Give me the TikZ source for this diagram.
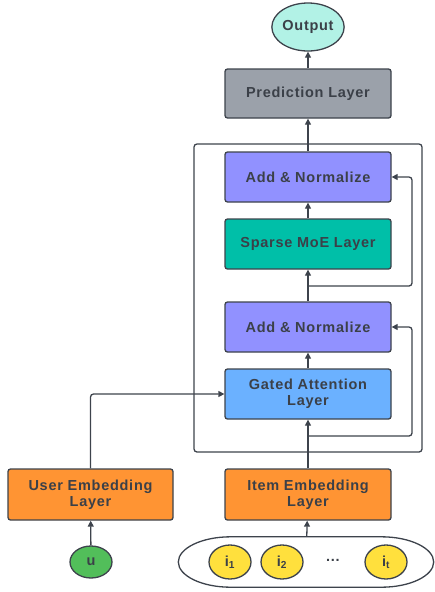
\documentclass[tikz,border=0pt]{standalone}
\usepackage{fontspec}
\usetikzlibrary{arrows.meta,shapes.geometric}
\newfontfamily\lblfamily[LetterSpace=5]{Liberation Sans}
\newcommand{\lbl}{\lblfamily\bfseries\fontsize{14.5}{16}\selectfont}
\definecolor{ink}{HTML}{3B4048}
\definecolor{edge}{HTML}{3D434C}
\definecolor{outfill}{HTML}{B2F2E6}
\definecolor{predfill}{HTML}{9BA1AA}
\definecolor{normfill}{HTML}{9191FF}
\definecolor{moefill}{HTML}{00BFA8}
\definecolor{attfill}{HTML}{6BB1FF}
\definecolor{embfill}{HTML}{FF9433}
\definecolor{userfill}{HTML}{52BE5A}
\definecolor{itemfill}{HTML}{FFE03D}
\begin{document}
\begin{tikzpicture}[x=1pt,y=-1pt,
  layer/.style={draw=edge, line width=1.3pt, rounded corners=2.5pt,
    minimum width=166pt, minimum height=50pt, inner sep=0pt,
    font=\lbl, text=ink, align=center},
  token/.style={ellipse, draw=edge, line width=1.3pt, inner sep=0pt,
    font=\lbl, text=ink},
  conn/.style={draw=edge, line width=1.3pt, rounded corners=3pt,
    -{Triangle[length=6pt,width=6pt]}},
  frame/.style={draw=edge, line width=1.3pt, rounded corners=3pt}]
\useasboundingbox (0,0) rectangle (435,592);

% encoder block frame
\draw[frame] (194,144) rectangle (422,452);

% output side
\node[token, fill=outfill, minimum width=64pt, minimum height=48pt] (out) at (308,27) {Output};
\node[layer, fill=predfill, minimum height=49pt] (pred) at (308,93.5) {Prediction Layer};

% encoder block
\node[layer, fill=normfill] (an1) at (308,177) {Add \& Normalize};
\node[layer, fill=moefill] (moe) at (308,244) {Sparse MoE Layer};
\node[layer, fill=normfill] (an2) at (308,327) {Add \& Normalize};
\node[layer, fill=attfill] (gated) at (308,394) {Gated Attention\\Layer};

% embeddings
\node[layer, fill=embfill, minimum width=165pt, minimum height=51pt] (user) at (90.5,494.5) {User Embedding\\Layer};
\node[layer, fill=embfill, minimum height=51pt] (item) at (308,494.5) {Item Embedding\\Layer};

% inputs: user token and the item sequence capsule
\node[token, fill=userfill, minimum width=42pt, minimum height=32pt] (u) at (91,562) {u};
\node[minimum width=255pt, minimum height=50pt, inner sep=0pt] (seq) at (306,562) {};
\draw[draw=edge, line width=1.3pt]
  ([xshift=-75.5pt]seq.north) -- ([xshift=75.5pt]seq.north)
  .. controls ([xshift=104.2pt]seq.north) and ([yshift=13.8pt]seq.east) .. (seq.east)
  .. controls ([yshift=-13.8pt]seq.east) and ([xshift=104.2pt]seq.south) .. ([xshift=75.5pt]seq.south)
  -- ([xshift=-75.5pt]seq.south)
  .. controls ([xshift=-104.2pt]seq.south) and ([yshift=-13.8pt]seq.west) .. (seq.west)
  .. controls ([yshift=13.8pt]seq.west) and ([xshift=-104.2pt]seq.north) .. cycle;
\node[token, fill=itemfill, minimum width=42pt, minimum height=34pt] (i1) at (230,562) {i\textsubscript{1}};
\node[token, fill=itemfill, minimum width=42pt, minimum height=34pt] (i2) at (282,562) {i\textsubscript{2}};
\node[font=\lbl, text=ink] (dots) at (333,560) {...};
\node[token, fill=itemfill, minimum width=42pt, minimum height=34pt] (it) at (386,562) {i\textsubscript{t}};

% residual branch points
\coordinate (r1) at (308,286);
\coordinate (r2) at (308,436);

% connectors
\draw[conn] (pred) -- (out);
\draw[conn] (an1) -- (pred);
\draw[conn] (moe) -- (an1);
\draw[conn] (an2) -- (moe);
\draw[conn] (gated) -- (an2);
\draw[conn] (item) -- (gated);
\draw[conn] (r1) -- ++(104,0) |- (an1.east);
\draw[conn] (r2) -- ++(104,0) |- (an2.east);
\draw[conn] (user.north) |- (gated.west);
\draw[conn] (u) -- (user);
\draw[conn] (seq) -- (item);
\end{tikzpicture}
\end{document}
